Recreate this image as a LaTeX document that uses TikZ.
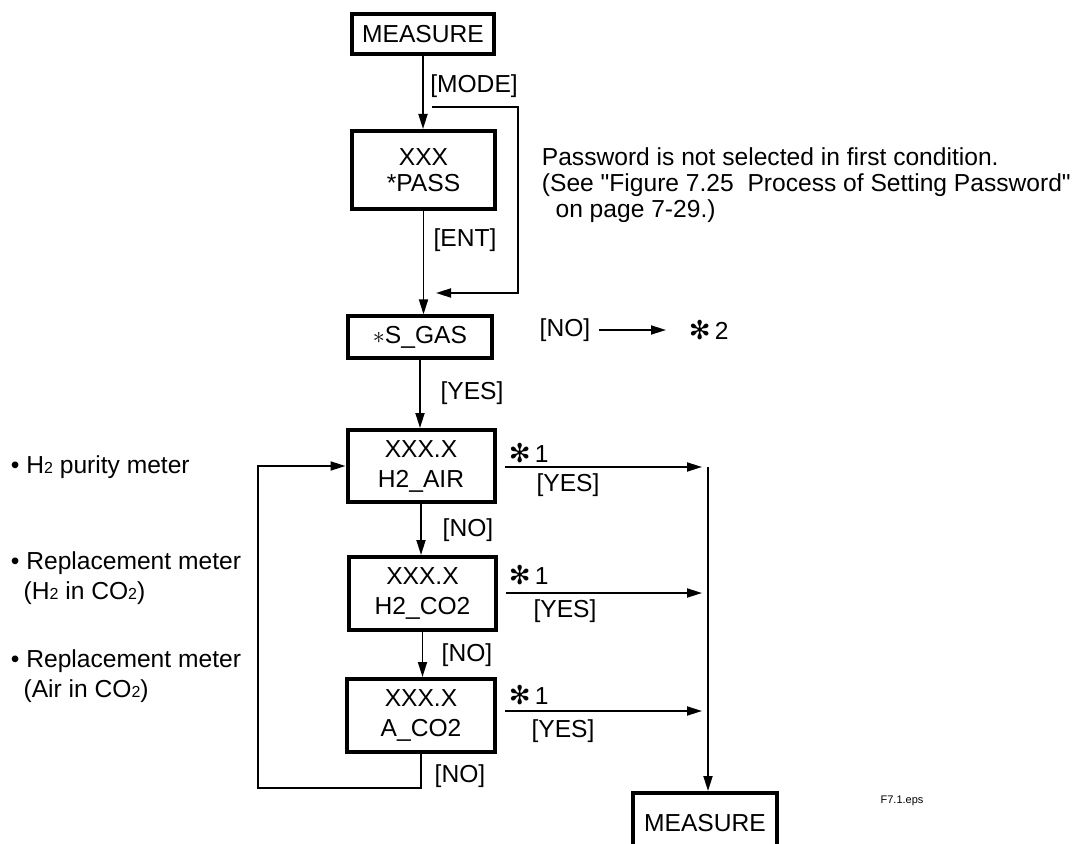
\documentclass[tikz,border=0pt]{standalone}
\usepackage{fontspec}
\setmainfont{Liberation Sans}[Ligatures=TeXOff]
\newfontfamily\symfont{DejaVu Sans}
\usetikzlibrary{arrows.meta}
\newcommand{\lowsub}[1]{{\fontsize{8}{8}\selectfont #1}}
\newcommand{\spoke}{{\symfont\fontsize{13}{13}\selectfont ✻}}

\begin{document}
\begin{tikzpicture}[x=0.5pt,y=-0.5pt,>={Triangle[length=7.5pt,width=4.5pt]},
  box/.style={draw,line width=2pt,align=center,inner sep=0pt,font=\fontsize{12.3}{15}\selectfont},
  lab/.style={inner sep=0pt,font=\fontsize{12.3}{15}\selectfont},
  every path/.style={line width=0.9pt}]
\useasboundingbox (0,0) rectangle (1090,844);
% boxes
\node[box,minimum width=71pt,minimum height=20pt](meas1) at (423,34){MEASURE};
\node[box,font=\fontsize{12.3}{12.8}\selectfont,minimum width=71.5pt,minimum height=39pt](pass) at (423.5,170){XXX\\*PASS};
\node[box,line width=1.6pt,minimum width=72pt,minimum height=21pt](sgas) at (420,337){$\ast$S\_GAS};
\node[box,minimum width=73.5pt,minimum height=36pt](hair) at (421,466){XXX.X\\H2\_AIR};
\node[box,minimum width=73.5pt,minimum height=36.5pt](hco) at (422.5,593.5){XXX.X\\H2\_CO2};
\node[box,minimum width=74pt,minimum height=36.5pt](aco) at (421,715.5){XXX.X\\A\_CO2};
\node[box,minimum width=72pt,minimum height=30pt](meas2) at (705,823){MEASURE};
% main line
\draw[->](meas1.south)--(meas1.south|-pass.north);
\draw[->](pass.south)--(pass.south|-sgas.north);
\draw[->](sgas.south)--(sgas.south|-hair.north);
\draw[->](hair.south)--(hair.south|-hco.north);
\draw[->](hco.south)--(hco.south|-aco.north);
\node[lab](mode) at (474,86){[MODE]};
\node[lab](ent) at (465,240){[ENT]};
\node[lab](yes0) at (472,393){[YES]};
\node[lab](no1) at (468,530){[NO]};
\node[lab](no2) at (467,655){[NO]};
\node[lab](no3) at (460,776){[NO]};
% password bypass
\coordinate(lpA) at (432,107);
\coordinate(lpC) at (518,107);
\coordinate(lpB) at (436,293);
\draw[->](lpA)--(lpC)|-(lpB);
\node[lab,font=\fontsize{12.3}{13}\selectfont,anchor=west,align=left](pwd) at (541,185){Password is not selected in first condition.\\(See "Figure 7.25\ \ Process of Setting Password"\\\ \ on page 7-29.)};
% S_GAS no
\node[lab](nogas) at (565,330){[NO]};
\node[lab,anchor=west](star2) at (688,330){\spoke\,2};
\draw[->,shorten <=4pt,shorten >=11pt](nogas.east)--(star2.west);
% yes branches to trunk
\coordinate(tr1) at (708,467);
\coordinate(tr2) at (708,593);
\coordinate(tr3) at (708,711);
\draw[->,shorten <=4pt,shorten >=3pt](hair.east|-tr1)--(tr1);
\draw[->,shorten <=4pt,shorten >=3pt](hco.east|-tr2)--(tr2);
\draw[->,shorten <=4pt,shorten >=3pt](aco.east|-tr3)--(tr3);
\draw[->](tr1)--(tr1|-meas2.north);
\node[lab,anchor=west](s1) at (508,453){\spoke\,1};
\node[lab,anchor=west](s2) at (508,575){\spoke\,1};
\node[lab,anchor=west](s3) at (508,695){\spoke\,1};
\node[lab](yes1) at (568,485){[YES]};
\node[lab](yes2) at (565,611){[YES]};
\node[lab](yes3) at (563,731){[YES]};
% loop back
\coordinate(lft) at (258,788);
\draw[->](aco.south)|-(lft)|-(hair.west);
% left notes
\node[lab,anchor=west](n1) at (10,467){\textbullet\ H\lowsub{2} purity meter};
\node[lab,anchor=west,align=left](n2) at (10,578){\textbullet\ Replacement meter\\\phantom{\textbullet}\,(H\lowsub{2} in CO\lowsub{2})};
\node[lab,anchor=west,align=left](n3) at (10,676){\textbullet\ Replacement meter\\\phantom{\textbullet}\,(Air in CO\lowsub{2})};
\node[inner sep=0pt,font=\fontsize{5.5}{6}\selectfont](fig) at (902,801){F7.1.eps};
\end{tikzpicture}
\end{document}
